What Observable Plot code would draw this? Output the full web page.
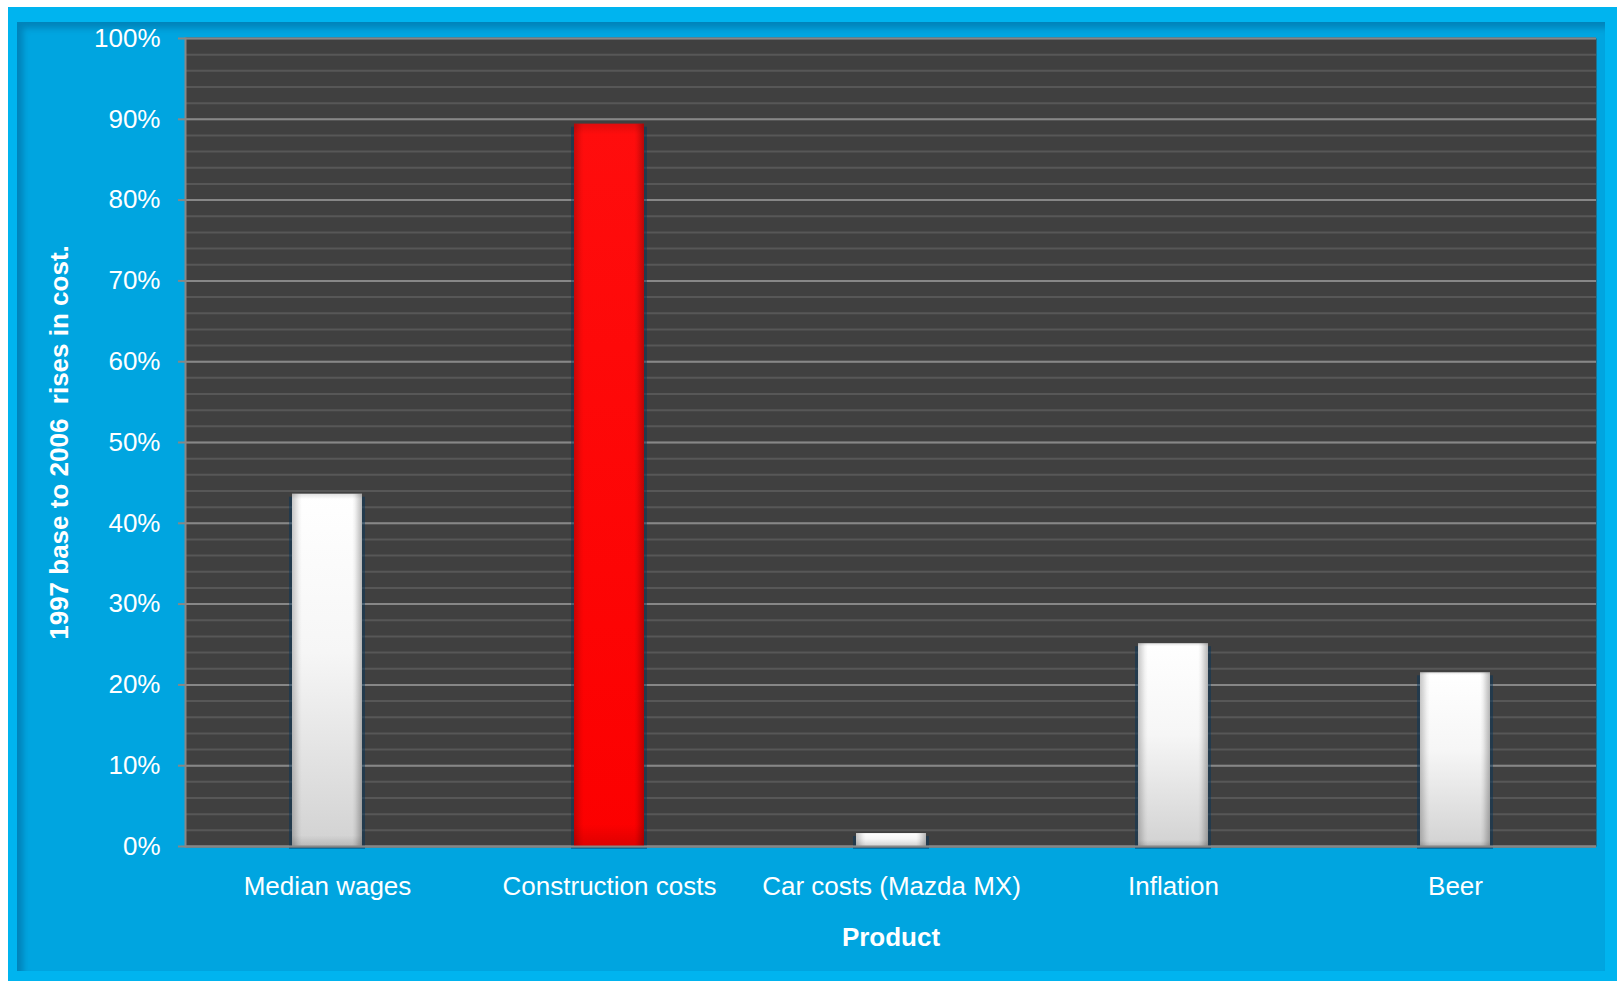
<!DOCTYPE html>
<html>
<head>
<meta charset="utf-8">
<script src="https://cdn.jsdelivr.net/npm/d3@7"></script>
<script src="https://cdn.jsdelivr.net/npm/@observablehq/plot@0.6"></script>
<style>
html, body { margin: 0; padding: 0; background: #ffffff; width: 1617px; height: 981px; overflow: hidden; }
#frame { position: absolute; left: 8px; top: 7px; width: 1609px; height: 974px; background: #00b4ef; }
#inner { position: absolute; left: 9px; top: 15px; width: 1588px; height: 949px; background: #00a5e0;
         box-shadow: inset 6px 6px 6px rgba(0, 70, 115, 0.35); }
#chart { position: absolute; left: 0; top: 0; }
#chart svg text { white-space: pre; }
</style>
</head>
<body>
<div id="frame"><div id="inner"></div></div>
<div id="chart"></div>
<script>
// ---- data ----
const categories = ["Median wages", "Construction costs", "Car costs (Mazda MX)", "Inflation", "Beer"];
const values = [0.436, 0.894, 0.016, 0.251, 0.215];
const highlighted = ["Construction costs"];
const yTicks = [0, 0.1, 0.2, 0.3, 0.4, 0.5, 0.6, 0.7, 0.8, 0.9, 1.0];
const yTickLabels = ["0%", "10%", "20%", "30%", "40%", "50%", "60%", "70%", "80%", "90%", "100%"];
const yTitle = "1997 base to 2006  rises in cost.";
const xTitle = "Product";

// ---- build ----
const data = categories.map((c, i) => ({category: c, value: values[i]}));
const minorTicks = d3.range(0, 1.0001, 0.02);
const whiteBars = data.filter(d => !highlighted.includes(d.category));
const redBars = data.filter(d => highlighted.includes(d.category));
const font = "'Liberation Sans', Arial, Helvetica, sans-serif";
const inset = 106;

const plot = Plot.plot({
  width: 1617,
  height: 981,
  marginLeft: 185,
  marginRight: 21,
  marginTop: 38,
  marginBottom: 135,
  style: {background: "transparent", fontFamily: font, fontSize: "26px", color: "#ffffff", overflow: "visible"},
  x: {domain: categories, padding: 0, label: null},
  y: {domain: [0, 1], label: null},
  marks: [
    Plot.frame({fill: "#404040", stroke: null}),
    Plot.ruleY(minorTicks, {stroke: "#575757", strokeWidth: 2}),
    Plot.ruleY(yTicks, {stroke: "#878787", strokeWidth: 2}),
    Plot.frame({anchor: "left", stroke: "#878787", strokeWidth: 2}),
    // bar shadows
    Plot.barY(data, {x: "category", y: "value", insetLeft: inset - 3, insetRight: inset - 3, dy: 3, fill: "#00335a", fillOpacity: 0.45}),
    Plot.barY(whiteBars, {x: "category", y: "value", insetLeft: inset, insetRight: inset, fill: "url(#gWhite)"}),
    Plot.barY(redBars, {x: "category", y: "value", insetLeft: inset, insetRight: inset, fill: "url(#gRed)"}),
    Plot.barY(data, {x: "category", y: "value", insetLeft: inset, insetRight: inset, fill: "url(#gSide)"}),
    Plot.barY(data, {x: "category", y: "value", insetLeft: inset, insetRight: inset, fill: "url(#gEnds)"}),
    Plot.ruleY([0], {stroke: "#878787", strokeWidth: 2}),
    Plot.axisY(yTicks, {
      tickSize: 7, tickPadding: 18, stroke: "#878787", strokeWidth: 2,
      tickFormat: (d, i) => yTickLabels[i], fontSize: 26, label: null
    }),
    Plot.axisX({tickSize: 0, tickPadding: 30, fontSize: 26, label: null}),
    Plot.text([yTitle], {text: d => d, frameAnchor: "left", textAnchor: "middle", dx: -118, rotate: -90, lineAnchor: "bottom",
      fontWeight: "bold", fontSize: 26, fill: "#ffffff"}),
    Plot.text([xTitle], {text: d => d, frameAnchor: "bottom", textAnchor: "middle", dy: 99, lineAnchor: "bottom",
      fontWeight: "bold", fontSize: 26, fill: "#ffffff"})
  ]
});

d3.select(plot).insert("defs", ":first-child").html(`
  <linearGradient id="gWhite" x1="0" y1="0" x2="0" y2="1">
    <stop offset="0%" stop-color="#ffffff"/>
    <stop offset="45%" stop-color="#f6f6f6"/>
    <stop offset="100%" stop-color="#d2d2d2"/>
  </linearGradient>
  <linearGradient id="gRed" x1="0" y1="0" x2="0" y2="1">
    <stop offset="0%" stop-color="#ff0d0d"/>
    <stop offset="100%" stop-color="#fc0000"/>
  </linearGradient>
  <linearGradient id="gSide" x1="0" y1="0" x2="1" y2="0">
    <stop offset="0%" stop-color="#000" stop-opacity="0.22"/>
    <stop offset="10%" stop-color="#000" stop-opacity="0.04"/>
    <stop offset="14%" stop-color="#000" stop-opacity="0"/>
    <stop offset="86%" stop-color="#000" stop-opacity="0"/>
    <stop offset="90%" stop-color="#000" stop-opacity="0.05"/>
    <stop offset="100%" stop-color="#000" stop-opacity="0.28"/>
  </linearGradient>
  <linearGradient id="gEnds" x1="0" y1="0" x2="0" y2="1">
    <stop offset="0%" stop-color="#000" stop-opacity="0.12"/>
    <stop offset="1.5%" stop-color="#000" stop-opacity="0"/>
    <stop offset="97%" stop-color="#000" stop-opacity="0"/>
    <stop offset="100%" stop-color="#000" stop-opacity="0.12"/>
  </linearGradient>
`);

document.getElementById("chart").appendChild(plot);
</script>
</body>
</html>
